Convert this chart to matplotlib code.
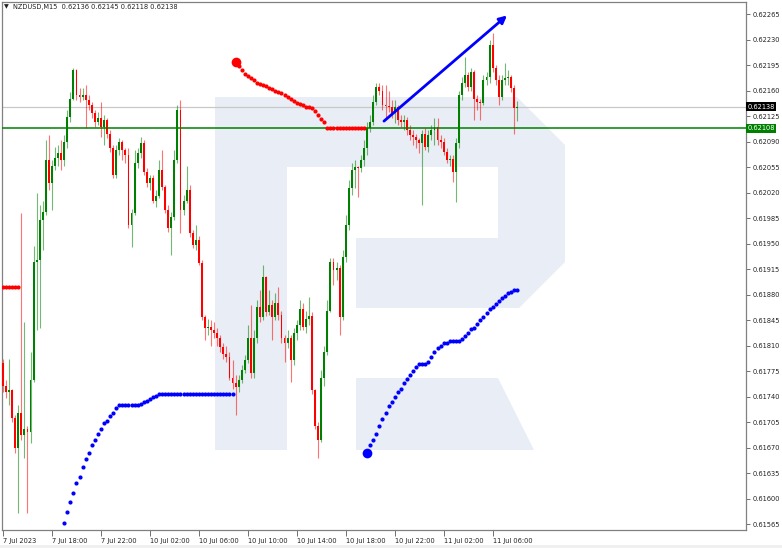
import numpy as np
import matplotlib
matplotlib.use("Agg")
import matplotlib.pyplot as plt
from matplotlib.patches import Polygon, Rectangle
from matplotlib.transforms import blended_transform_factory

# NZDUSD M15 candles, prices in points (1 point = 0.00001)
first_open = 61786
closes = [
    61755, 61746, 61749, 61710, 61669, 61717, 61687, 61696, 61691, 61762,
    61924, 61927, 61982, 61993, 62064, 62033, 62056, 62067, 62074, 62064,
    62089, 62123, 62149, 62188, 62154, 62151, 62154, 62147, 62140, 62129,
    62117, 62122, 62110, 62119, 62101, 62081, 62044, 62078, 62089, 62078,
    62071, 61975, 61992, 62060, 62074, 62088, 62048, 62033, 62040, 62009,
    62015, 62051, 62027, 61996, 61971, 61986, 62064, 62133, 61996, 62009,
    62023, 61964, 61948, 61955, 61923, 61849, 61834, 61836, 61831, 61827,
    61820, 61808, 61799, 61794, 61766, 61758, 61753, 61762, 61776, 61790,
    61821, 61772, 61821, 61863, 61849, 61904, 61856, 61865, 61849, 61869,
    61852, 61820, 61813, 61820, 61790, 61827, 61838, 61860, 61835, 61847,
    61850, 61749, 61700, 61680, 61766, 61801, 61858, 61924, 61913, 61916,
    61849, 61931, 61975, 62026, 62051, 62055, 62053, 62064, 62081, 62108,
    62117, 62144, 62165, 62160, 62140, 62139, 62138, 62129, 62137, 62119,
    62117, 62119, 62106, 62099, 62096, 62092, 62088, 62101, 62082, 62099,
    62106, 62110, 62092, 62089, 62075, 62064, 62066, 62048, 62088, 62154,
    62171, 62181, 62165, 62185, 62149, 62144, 62143, 62174, 62178, 62222,
    62191, 62174, 62151, 62174, 62177, 62178, 62163, 62136, 62138,
]
highs = [
    61792, 61762, 61792, 61751, 61714, 61728, 61992, 61842, 61700, 61801,
    61946, 62019, 62003, 62009, 62092, 62099, 62064, 62082, 62085, 62092,
    62099, 62133, 62158, 62191, 62189, 62163, 62163, 62167, 62154, 62144,
    62133, 62130, 62144, 62126, 62122, 62106, 62085, 62085, 62095, 62092,
    62081, 62081, 61998, 62078, 62081, 62096, 62092, 62053, 62044, 62044,
    62023, 62064, 62078, 62030, 62003, 61993, 62078, 62140, 62147, 62016,
    62057, 62030, 61968, 61975, 61961, 61927, 61852, 61847, 61845, 61842,
    61834, 61824, 61814, 61810, 61801, 61790, 61769, 61769, 61783, 61797,
    61838, 61865, 61831, 61872, 61886, 61920, 61906, 61886, 61872, 61882,
    61890, 61858, 61824, 61831, 61824, 61834, 61845, 61872, 61869, 61858,
    61876, 61856, 61751, 61705, 61776, 61810, 61872, 61930, 61930, 61924,
    61920, 61941, 61989, 62037, 62060, 62064, 62057, 62071, 62092, 62117,
    62126, 62154, 62171, 62171, 62167, 62167, 62160, 62147, 62147, 62140,
    62126, 62126, 62123, 62112, 62106, 62101, 62095, 62106, 62108, 62106,
    62112, 62122, 62122, 62099, 62095, 62081, 62071, 62071, 62095, 62160,
    62178, 62206, 62185, 62191, 62188, 62154, 62149, 62181, 62185, 62229,
    62239, 62195, 62181, 62181, 62198, 62188, 62181, 62167, 62145,
]
lows = [
    61746, 61738, 61728, 61705, 61663, 61580, 61680, 61656, 61580, 61676,
    61760, 61831, 61834, 61941, 61989, 62023, 61996, 62051, 62057, 62051,
    62057, 62081, 62117, 62147, 62147, 62144, 62147, 62108, 62133, 62122,
    62110, 62112, 62096, 62085, 62095, 62075, 62040, 62040, 62071, 62064,
    62060, 61971, 61945, 61989, 62053, 62068, 62044, 62027, 62023, 62005,
    62000, 62012, 62023, 61992, 61966, 61934, 61982, 62060, 61964, 61989,
    62005, 61959, 61944, 61941, 61920, 61845, 61817, 61824, 61810, 61820,
    61810, 61801, 61792, 61787, 61762, 61751, 61714, 61746, 61758, 61772,
    61786, 61766, 61765, 61814, 61842, 61845, 61850, 61852, 61817, 61845,
    61845, 61814, 61787, 61806, 61760, 61783, 61817, 61831, 61831, 61827,
    61838, 61744, 61696, 61655, 61677, 61755, 61797, 61856, 61893, 61900,
    61824, 61845, 61924, 61968, 62016, 62026, 62014, 62048, 62057, 62071,
    62103, 62112, 62140, 62154, 62133, 62122, 62130, 62122, 62115, 62112,
    62110, 62106, 62099, 62092, 62085, 62081, 62074, 62003, 62078, 62075,
    62092, 62085, 62085, 62081, 62071, 62060, 62057, 62034, 62007, 62081,
    62147, 62165, 62160, 62160, 62119, 62133, 62119, 62140, 62167, 62171,
    62185, 62167, 62140, 62147, 62167, 62167, 62158, 62101, 62118,
]

# parabolic SAR dots: (first bar, values in points)
sar_red_a_start = 0
sar_red_a = [61890, 61890, 61890, 61890, 61890, 61890]
sar_blue_a_start = 20
sar_blue_a = [
    61567, 61581, 61595, 61608, 61621, 61630, 61643, 61654, 61663, 61674,
    61681, 61689, 61696, 61703, 61707, 61713, 61718, 61724, 61728, 61728,
    61728, 61728, 61728, 61728, 61728, 61730, 61732, 61734, 61736, 61739,
    61741, 61743, 61743, 61743, 61743, 61743, 61743, 61743, 61743, 61743,
    61743, 61743, 61743, 61743, 61743, 61743, 61743, 61743, 61743, 61743,
    61743, 61743, 61743, 61743, 61743, 61743,
]
sar_red_b_start = 76
sar_red_b = [
    62199, 62193, 62188, 62182, 62180, 62177, 62174, 62171, 62169, 62167,
    62166, 62163, 62162, 62159, 62158, 62156, 62154, 62151, 62148, 62145,
    62143, 62141, 62140, 62138, 62137, 62136, 62132, 62126, 62121, 62117,
    62108, 62108, 62108, 62108, 62108, 62108, 62108, 62108, 62108, 62108,
    62108, 62108, 62108,
]
sar_blue_b_start = 119
sar_blue_b = [
    61663, 61673, 61681, 61689, 61699, 61709, 61717, 61727, 61733, 61739,
    61746, 61751, 61758, 61764, 61769, 61775, 61780, 61784, 61784, 61784,
    61788, 61794, 61801, 61806, 61809, 61813, 61814, 61816, 61816, 61816,
    61816, 61819, 61823, 61827, 61832, 61834, 61839, 61845, 61849, 61854,
    61860, 61863, 61867, 61871, 61875, 61878, 61882, 61884, 61886, 61886,
]

tick_bars = [0, 16, 32, 48, 64, 80, 96, 112, 128, 144, 160]
tick_labels = ["7 Jul 2023", "7 Jul 18:00", "7 Jul 22:00", "10 Jul 02:00",
               "10 Jul 06:00", "10 Jul 10:00", "10 Jul 14:00", "10 Jul 18:00",
               "10 Jul 22:00", "11 Jul 02:00", "11 Jul 06:00"]

bid_price = 0.62138
level_price = 0.62108
arrow_from = (124.5, 0.62118)
arrow_to = (164.7, 0.62263)

W, H = 782, 548
fig = plt.figure(figsize=(W / 100, H / 100), dpi=100)
fig.patch.set_facecolor("white")
ax = fig.add_axes([2 / W, 18 / H, 744 / W, 528 / H])
ax.set_facecolor("white")

# watermark "R" logo, in pixel coordinates of the picture
def px(points):
    return [(x / W, 1 - y / H) for x, y in points]

logo_color = "#e9edf5"
ax.add_patch(Polygon(px([(215, 97), (517, 97), (565, 145), (565, 262), (519, 308),
                         (356, 308), (356, 238), (498, 238), (498, 167), (287, 167),
                         (287, 450), (215, 450)]),
                     closed=True, fc=logo_color, ec="none", transform=fig.transFigure, zorder=0))
ax.add_patch(Polygon(px([(356, 378), (498, 378), (534, 450), (356, 450)]),
                     closed=True, fc=logo_color, ec="none", transform=fig.transFigure, zorder=0))

c = np.array(closes) / 1e5
o = np.concatenate([[first_open], closes[:-1]]) / 1e5
h = np.array(highs) / 1e5
l = np.array(lows) / 1e5
x = np.arange(len(c))
up = c >= o
cols = np.where(up, "#008000", "#ff0000")

top = np.maximum(h, np.maximum(o, c))
bot = np.minimum(l, np.minimum(o, c))
ax.vlines(x, bot, top, colors=cols, lw=0.8, alpha=0.55, zorder=2)
body = np.maximum(np.abs(c - o), 0.000012)
ax.bar(x, body, bottom=np.minimum(o, c), width=0.62, color=cols, lw=0, zorder=3)

ax.axhline(bid_price, color="#c8c8c8", lw=0.9, zorder=1)
ax.axhline(level_price, color="#008000", lw=1.1, zorder=4)

# the last flag marks a SAR reversal inside the view (drawn with a big dot)
for start, vals, col, flip in [(sar_red_a_start, sar_red_a, "#ff0000", False),
                               (sar_blue_a_start, sar_blue_a, "#0000ff", False),
                               (sar_red_b_start, sar_red_b, "#ff0000", True),
                               (sar_blue_b_start, sar_blue_b, "#0000ff", True)]:
    xs = np.arange(start, start + len(vals))
    ax.plot(xs, np.array(vals) / 1e5, "o", ms=3.0, color=col, mec="none", zorder=5)
    if flip:
        ax.plot(xs[0], vals[0] / 1e5, "o", ms=7, color=col, mec="none", zorder=5)

ax.annotate("", xy=arrow_to, xytext=arrow_from,
            arrowprops=dict(arrowstyle="-|>", color="#0000ff", lw=2, mutation_scale=11,
                            shrinkA=0, shrinkB=0), zorder=6)

ax.set_xlim(-0.33, 242.8)
ax.set_ylim(0.615568, 0.622815)

yt = np.round(np.arange(0.61565, 0.62266, 0.00035), 5)
ax.yaxis.tick_right()
ax.set_yticks(yt)
ax.set_yticklabels([f"{v:.5f}" for v in yt])
ax.set_xticks(tick_bars)
ax.set_xticklabels(tick_labels, ha="left")
ax.tick_params(axis="y", labelsize=4.8, length=3, width=0.7, color="#707070",
               labelcolor="#222222", pad=1.5)
ax.tick_params(axis="x", labelsize=4.8, length=4, width=0.7, color="#707070",
               labelcolor="#222222", pad=1.5)
for s in ax.spines.values():
    s.set_color("#808080")
    s.set_linewidth(0.9)

tr = blended_transform_factory(ax.transAxes, ax.transData)
ax.text(1.002, bid_price, f"{bid_price:.5f}", transform=tr, ha="left", va="center",
        fontsize=4.8, color="white",
        bbox=dict(boxstyle="square,pad=0.2", fc="black", ec="none"), clip_on=False)
ax.text(1.002, level_price, f"{level_price:.5f}", transform=tr, ha="left", va="center",
        fontsize=4.8, color="white",
        bbox=dict(boxstyle="square,pad=0.2", fc="#008000", ec="none"), clip_on=False)

fig.text(4 / W, 1 - 7 / H, "\u25bc", fontsize=4.5, color="#222222", va="center")
fig.text(13 / W, 1 - 7 / H,
         f"NZDUSD,M15  {o[-1]:.5f} {h[-1]:.5f} {l[-1]:.5f} {c[-1]:.5f}",
         fontsize=4.8, color="#222222", va="center")

fig.patches.append(Rectangle((0, 0), 1, 3 / H, transform=fig.transFigure,
                             fc="#f0f0f0", ec="none"))

fig.savefig("out.png", dpi=100)
